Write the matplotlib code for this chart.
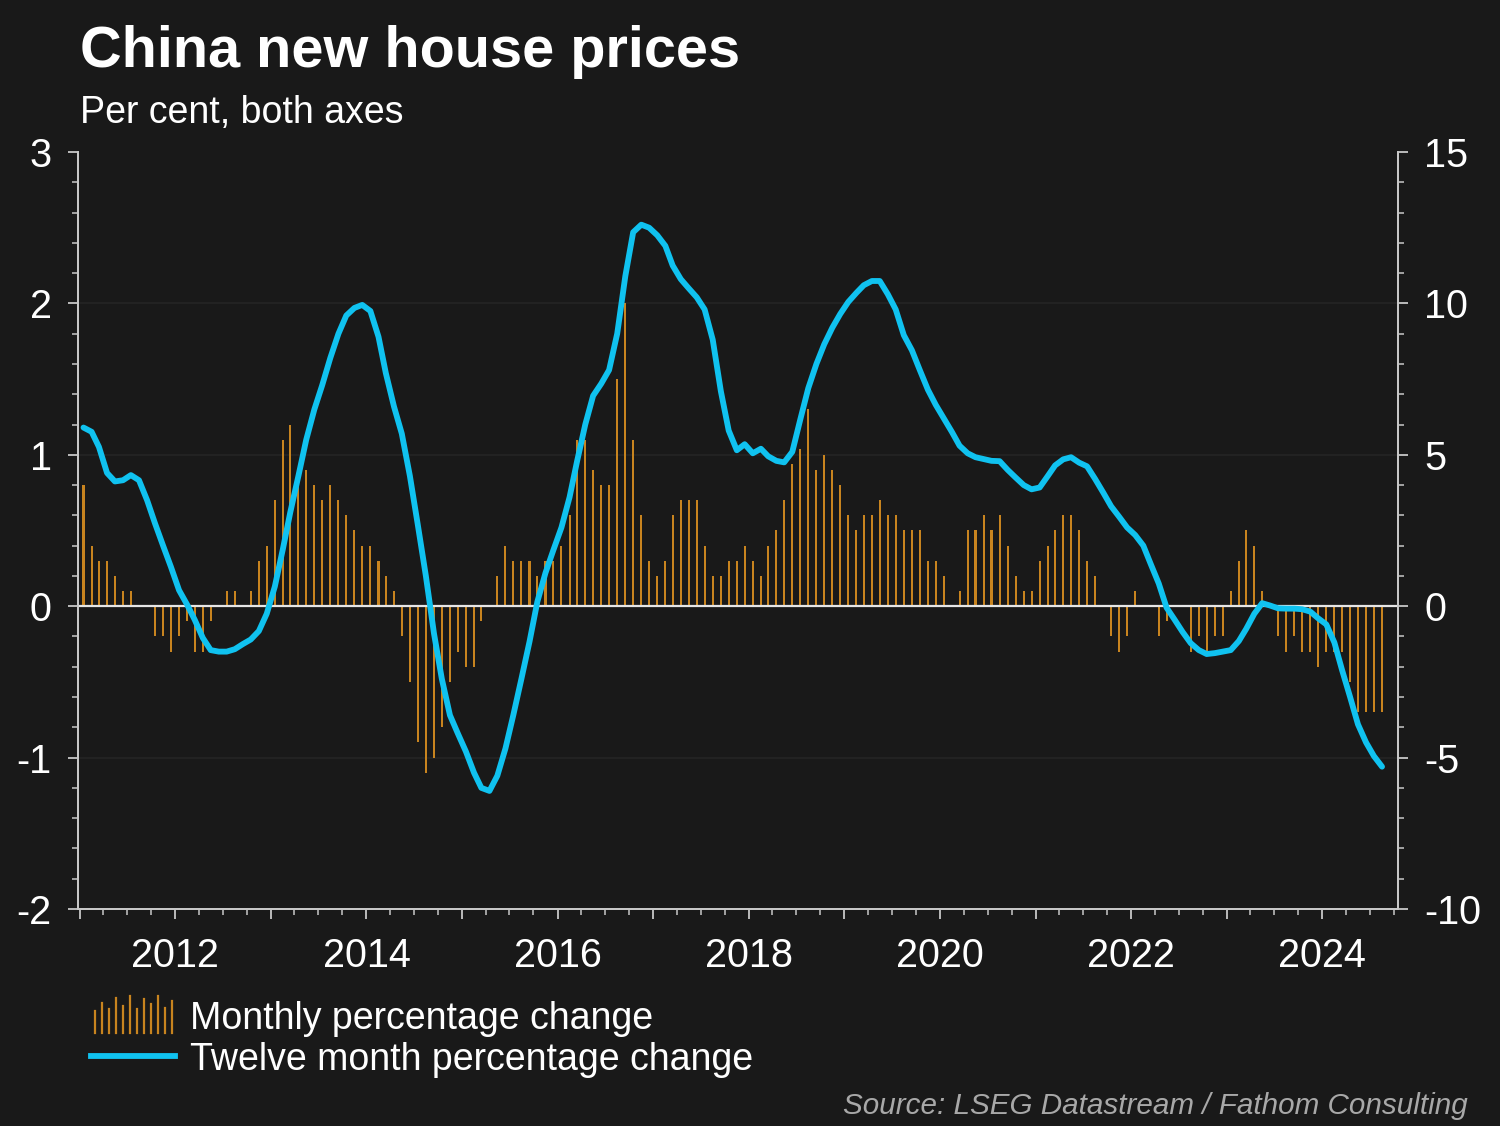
import matplotlib
matplotlib.use("Agg")
import matplotlib.pyplot as plt
import matplotlib.dates as mdates
from matplotlib.ticker import MultipleLocator, FuncFormatter
from matplotlib.legend_handler import HandlerBase
from matplotlib.lines import Line2D
import numpy as np
import pandas as pd

plt.rcParams['font.family'] = ['Liberation Sans', 'DejaVu Sans']

# ---------------- data ----------------
start_month = "2011-01"
monthly_change = [
    0.8, 0.4, 0.3, 0.3, 0.2, 0.1, 0.1, 0.0, 0.0, -0.2, -0.2, -0.3,      # 2011
    -0.2, -0.1, -0.3, -0.3, -0.1, 0.0, 0.1, 0.1, 0.0, 0.1, 0.3, 0.4,    # 2012
    0.7, 1.1, 1.2, 0.8, 0.9, 0.8, 0.7, 0.8, 0.7, 0.6, 0.5, 0.4,         # 2013
    0.4, 0.3, 0.2, 0.1, -0.2, -0.5, -0.9, -1.1, -1.0, -0.8, -0.5, -0.3, # 2014
    -0.4, -0.4, -0.1, 0.0, 0.2, 0.4, 0.3, 0.3, 0.3, 0.2, 0.3, 0.3,      # 2015
    0.4, 0.6, 1.1, 1.1, 0.9, 0.8, 0.8, 1.5, 2.0, 1.1, 0.6, 0.3,         # 2016
    0.2, 0.3, 0.6, 0.7, 0.7, 0.7, 0.4, 0.2, 0.2, 0.3, 0.3, 0.4,         # 2017
    0.3, 0.2, 0.4, 0.5, 0.7, 0.94, 1.04, 1.3, 0.9, 1.0, 0.9, 0.8,       # 2018
    0.6, 0.5, 0.6, 0.6, 0.7, 0.6, 0.6, 0.5, 0.5, 0.5, 0.3, 0.3,         # 2019
    0.2, 0.0, 0.1, 0.5, 0.5, 0.6, 0.5, 0.6, 0.4, 0.2, 0.1, 0.1,         # 2020
    0.3, 0.4, 0.5, 0.6, 0.6, 0.5, 0.3, 0.2, 0.0, -0.2, -0.3, -0.2,      # 2021
    0.1, 0.0, 0.0, -0.2, -0.1, 0.0, 0.0, -0.3, -0.2, -0.3, -0.2, -0.2,  # 2022
    0.1, 0.3, 0.5, 0.4, 0.1, 0.0, -0.2, -0.3, -0.2, -0.3, -0.3, -0.4,   # 2023
    -0.3, -0.3, -0.3, -0.5, -0.7, -0.7, -0.7, -0.7,                     # 2024
]
twelve_month_change = [
    5.9, 5.76, 5.26, 4.4, 4.12, 4.16, 4.33, 4.16, 3.5, 2.74, 2.0, 1.3,        # 2011
    0.53, 0.05, -0.45, -1.05, -1.45, -1.5, -1.5, -1.42, -1.25, -1.1, -0.82, -0.25,  # 2012
    0.65, 1.9, 3.1, 4.3, 5.5, 6.5, 7.3, 8.2, 9.0, 9.6, 9.85, 9.95,            # 2013
    9.75, 8.9, 7.7, 6.6, 5.7, 4.3, 2.7, 1.0, -0.9, -2.4, -3.6, -4.2,          # 2014
    -4.8, -5.5, -6.0, -6.1, -5.6, -4.7, -3.6, -2.4, -1.17, 0.15, 1.1, 1.85,   # 2015
    2.6, 3.6, 4.8, 6.0, 6.95, 7.35, 7.8, 9.0, 10.9, 12.35, 12.6, 12.5,        # 2016
    12.25, 11.9, 11.25, 10.8, 10.5, 10.2, 9.8, 8.8, 7.1, 5.8, 5.15, 5.35,     # 2017
    5.05, 5.2, 4.95, 4.8, 4.75, 5.1, 6.15, 7.2, 8.0, 8.65, 9.2, 9.65,         # 2018
    10.05, 10.35, 10.6, 10.74, 10.74, 10.3, 9.8, 8.95, 8.45, 7.8, 7.15, 6.65, # 2019
    6.2, 5.75, 5.3, 5.05, 4.92, 4.86, 4.8, 4.79, 4.5, 4.25, 4.0, 3.86,        # 2020
    3.92, 4.3, 4.65, 4.85, 4.92, 4.74, 4.62, 4.2, 3.75, 3.3, 2.95, 2.6,       # 2021
    2.35, 2.0, 1.4, 0.75, -0.05, -0.45, -0.85, -1.22, -1.45, -1.58, -1.55, -1.5,  # 2022
    -1.45, -1.15, -0.75, -0.25, 0.1, 0.02, -0.07, -0.08, -0.08, -0.1, -0.18, -0.4,  # 2023
    -0.6, -1.2, -2.1, -3.0, -3.9, -4.5, -4.95, -5.3,                          # 2024
]
title = "China new house prices"
subtitle = "Per cent, both axes"
source = "Source: LSEG Datastream / Fathom Consulting"
label_monthly = "Monthly percentage change"
label_annual = "Twelve month percentage change"

# ---------------- style ----------------
BG = "#191919"
BAR_C = "#c8841f"
LINE_C = "#10c2f0"
TXT = "#ffffff"
AX_C = "#c8c8c8"
GRID_C = "#252525"

months = pd.date_range(start_month, periods=len(monthly_change), freq="MS")
mid = months + pd.Timedelta(days=15)

fig = plt.figure(figsize=(15, 11.26), dpi=100, facecolor=BG)
ax = fig.add_axes([78 / 1500, 1 - 909 / 1126, (1398 - 78) / 1500, (909 - 152) / 1126])
ax.set_facecolor(BG)
ax2 = ax.twinx()

ax.bar(mid, monthly_change, width=8, color=BAR_C, zorder=2, linewidth=0)
ax.axhline(0, color="#e6e6e6", lw=1.6, zorder=3)
ax2.plot(mid, twelve_month_change, color=LINE_C, lw=4.2, solid_capstyle="round",
         solid_joinstyle="round", zorder=4)

ax.set_ylim(-2, 3)
ax2.set_ylim(-10, 15)
ax.set_xlim(pd.Timestamp("2010-12-26"), pd.Timestamp("2024-10-16"))

# grid
for yv in [-1, 1, 2]:
    ax.axhline(yv, color=GRID_C, lw=1.2, zorder=1)

# spines
for a in (ax, ax2):
    a.spines["top"].set_visible(False)
    for s in ("left", "right", "bottom"):
        a.spines[s].set_color(AX_C)
        a.spines[s].set_linewidth(1.4)

# ticks
ax.yaxis.set_major_locator(MultipleLocator(1))
ax.yaxis.set_minor_locator(MultipleLocator(0.2))
ax2.yaxis.set_major_locator(MultipleLocator(5))
ax2.yaxis.set_minor_locator(MultipleLocator(1))
ax.yaxis.set_major_formatter(FuncFormatter(lambda v, p: f"{v:.0f}"))
ax2.yaxis.set_major_formatter(FuncFormatter(lambda v, p: f"{v:.0f}"))

ax.xaxis.set_major_locator(mdates.YearLocator(1))
ax.xaxis.set_minor_locator(mdates.MonthLocator(bymonth=[4, 7, 10]))
ax.xaxis.set_major_formatter(FuncFormatter(
    lambda v, p: str(mdates.num2date(v).year) if mdates.num2date(v).year % 2 == 0 else ""))

for a in (ax, ax2):
    a.tick_params(axis="both", which="major", direction="out", length=7, width=1.3,
                  color=AX_C, labelcolor=TXT, labelsize=28.5, pad=12)
    a.tick_params(axis="both", which="minor", direction="out", length=4, width=1.1,
                  color=AX_C)
ax.tick_params(axis="x", which="major", pad=13)

# title texts
fig.text(80 / 1500, 1 - 67 / 1126, title, color=TXT, fontsize=41.5, fontweight="bold",
         va="baseline", ha="left")
fig.text(80 / 1500, 1 - 123 / 1126, subtitle, color=TXT, fontsize=27,
         va="baseline", ha="left")
fig.text(1468 / 1500, 1 - 1114 / 1126, source, color="#a8a8a8", fontsize=21.3,
         fontstyle="italic", va="baseline", ha="right")


# legend
class MiniBars(HandlerBase):
    def create_artists(self, legend, orig_handle, xdescent, ydescent, width, height,
                       fontsize, trans):
        hs = [0.55, 0.8, 0.6, 0.95, 0.7, 1.0, 0.6, 0.9, 0.75, 1.0, 0.65, 0.85]
        arts = []
        n = len(hs)
        for k, h in enumerate(hs):
            xx = -xdescent + width * (k + 0.5) / n
            arts.append(Line2D([xx, xx], [-ydescent - 0.15 * height, -ydescent + h * 1.25 * height],
                               color=BAR_C, lw=1.6, transform=trans))
        return arts


bar_proxy = Line2D([], [], color=BAR_C)
line_proxy = Line2D([], [], color=LINE_C, lw=4.2)
leg = fig.legend([bar_proxy, line_proxy], [label_monthly, label_annual],
                 handler_map={bar_proxy: MiniBars()},
                 loc="upper left", bbox_to_anchor=(91 / 1500, 1 - 1001 / 1126),
                 frameon=False, fontsize=27, labelcolor=TXT, handlelength=2.25,
                 handletextpad=0.4, labelspacing=0.12, borderaxespad=0, borderpad=0)

fig.savefig("out.png", dpi=100, facecolor=BG)
